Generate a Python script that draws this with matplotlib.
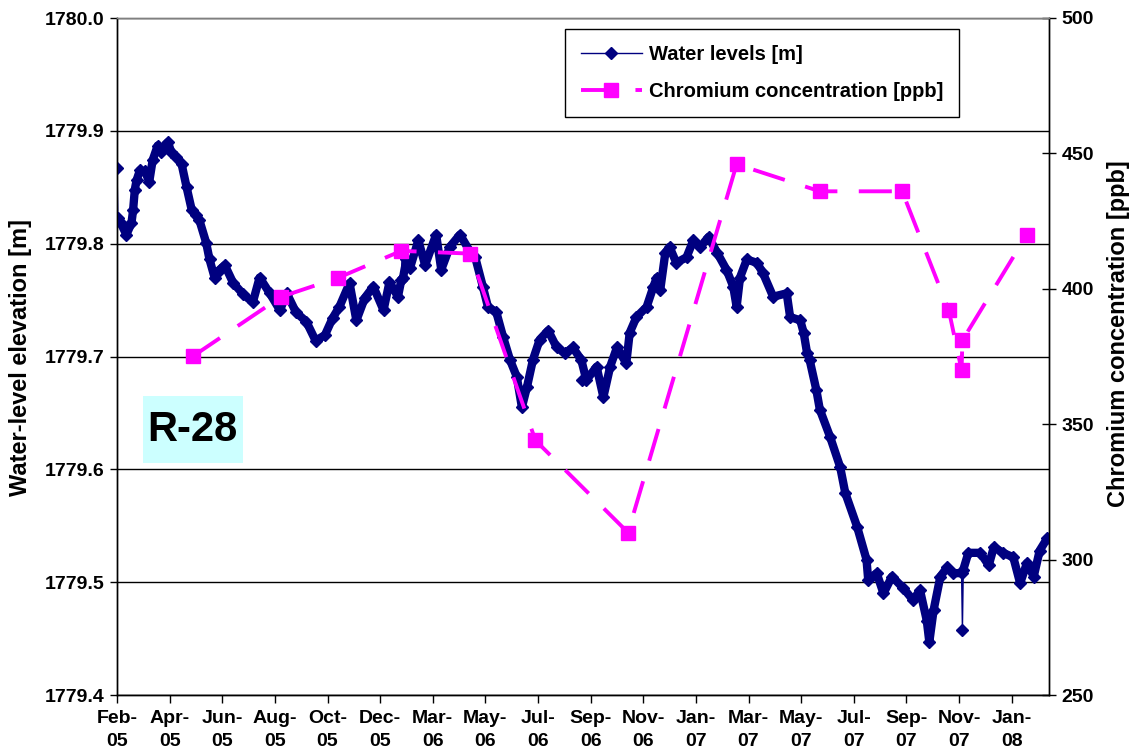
import matplotlib
matplotlib.use('Agg')
import matplotlib.pyplot as plt
import pandas as pd
import numpy as np
from matplotlib.patches import Rectangle

plt.rcParams['font.family'] = ['Liberation Sans', 'DejaVu Sans']
plt.rcParams['font.weight'] = 'bold'

# ---------------- data ----------------
START = '2005-02-23'          # first day on the time axis
TICK_STEP_DAYS = 62            # Excel date-axis major unit
N_TICKS = 18

# water levels: days since START, elevation [m]
wl_days = [0, 1, 4, 11, 17, 19, 21, 23, 27, 33,
           38, 42, 48, 52, 56, 60, 64, 69, 76, 82,
           88, 93, 97, 105, 109, 115, 121, 127, 137, 149,
           160, 168, 180, 192, 200, 211, 223, 234, 245, 254,
           262, 274, 282, 292, 302, 314, 321, 331, 335, 336,
           337, 341, 345, 355, 363, 376, 382, 392, 404, 416,
           422, 431, 437, 447, 455, 463, 471, 477, 483, 490,
           498, 508, 518, 528, 537, 547, 548, 553, 565, 573,
           581, 589, 600, 604, 612, 624, 632, 636, 640, 646,
           651, 659, 671, 679, 687, 697, 707, 718, 726, 730,
           734, 742, 754, 761, 773, 789, 793, 805, 809, 813,
           816, 824, 828, 840, 852, 858, 872, 883, 885, 895,
           903, 913, 926, 938, 946, 954, 957, 962, 970, 978,
           985, 995, 996, 997, 1003, 1017, 1027, 1033, 1044, 1056,
           1064, 1072, 1080, 1087, 1096]
wl_elev = [1779.867, 1779.823, 1779.819, 1779.808, 1779.818, 1779.830, 1779.848, 1779.856, 1779.865, 1779.864,
           1779.855, 1779.874, 1779.887, 1779.881, 1779.887, 1779.890, 1779.881, 1779.877, 1779.871, 1779.850,
           1779.830, 1779.825, 1779.821, 1779.801, 1779.786, 1779.770, 1779.777, 1779.781, 1779.765, 1779.755,
           1779.748, 1779.770, 1779.756, 1779.741, 1779.756, 1779.739, 1779.731, 1779.714, 1779.719, 1779.734,
           1779.744, 1779.765, 1779.732, 1779.752, 1779.762, 1779.741, 1779.766, 1779.753, 1779.768, 1779.792,
           1779.770, 1779.786, 1779.778, 1779.803, 1779.781, 1779.808, 1779.777, 1779.797, 1779.808, 1779.793,
           1779.788, 1779.762, 1779.744, 1779.739, 1779.717, 1779.697, 1779.682, 1779.655, 1779.673, 1779.697,
           1779.715, 1779.723, 1779.708, 1779.703, 1779.708, 1779.697, 1779.679, 1779.679, 1779.691, 1779.664,
           1779.691, 1779.708, 1779.694, 1779.721, 1779.735, 1779.744, 1779.762, 1779.770, 1779.759, 1779.792,
           1779.797, 1779.783, 1779.788, 1779.803, 1779.797, 1779.806, 1779.792, 1779.777, 1779.762, 1779.744,
           1779.770, 1779.786, 1779.783, 1779.774, 1779.753, 1779.756, 1779.735, 1779.732, 1779.721, 1779.703,
           1779.697, 1779.670, 1779.653, 1779.629, 1779.602, 1779.579, 1779.549, 1779.520, 1779.502, 1779.508,
           1779.490, 1779.505, 1779.495, 1779.484, 1779.493, 1779.466, 1779.447, 1779.475, 1779.505, 1779.513,
           1779.508, 1779.508, 1779.458, 1779.511, 1779.526, 1779.526, 1779.515, 1779.531, 1779.526, 1779.522,
           1779.499, 1779.517, 1779.505, 1779.528, 1779.539]
# single-reading outliers drawn as thin spikes in the original
wl_spike_days = [0, 336, 548, 996]

# chromium: days since START, concentration [ppb]
cr_days = [89, 193, 260, 335, 416, 493, 602, 730, 828, 925, 980, 995, 996, 1072]
cr_ppb = [375, 397, 404, 414, 413, 344, 310, 446, 436, 436, 392, 370, 381, 420]

left_ticks = [1779.4, 1779.5, 1779.6, 1779.7, 1779.8, 1779.9, 1780.0]
right_ticks = [250, 300, 350, 400, 450, 500]

WL_LABEL = 'Water levels [m]'
CR_LABEL = 'Chromium concentration [ppb]'
WELL = 'R-28'

# ---------------- plot ----------------
W, H = 1132, 756
fig = plt.figure(figsize=(W / 100, H / 100), dpi=100)
L, R, T, B = 117, 1049, 18, 695
ax = fig.add_axes([L / W, 1 - B / H, (R - L) / W, (B - T) / H])

start = pd.Timestamp(START)
wl_dates = start + pd.to_timedelta(wl_days, unit='D')
cr_dates = start + pd.to_timedelta(cr_days, unit='D')

NAVY = '#000080'
ax.yaxis.grid(True, color='black', lw=1)
ax.set_axisbelow(True)

# dense logger record -> thick band of overlapping diamonds
band = ~np.isin(wl_days, wl_spike_days)
ax.plot(wl_dates[band], np.asarray(wl_elev)[band], color=NAVY, lw=6.0,
        solid_joinstyle='round', solid_capstyle='round', zorder=2)
h1, = ax.plot(wl_dates, wl_elev, color=NAVY, lw=1.0, marker='D', ms=6.6,
              mfc=NAVY, mec=NAVY, label=WL_LABEL, zorder=3)
ax.set_ylim(left_ticks[0], left_ticks[-1])
ax.set_yticks(left_ticks)
ax.set_yticklabels([f'{v:.1f}' for v in left_ticks])

ax2 = ax.twinx()
h2, = ax2.plot(cr_dates, cr_ppb, color='#FF00FF', lw=2.8, dashes=(8.5, 5.5),
               marker='s', ms=9.5, mfc='#FF00FF', mec='#FF00FF', label=CR_LABEL)
ax2.set_ylim(right_ticks[0], right_ticks[-1])
ax2.set_yticks(right_ticks)
ax2.set_yticklabels([str(v) for v in right_ticks])

xt = [(start + pd.Timedelta(days=TICK_STEP_DAYS * k)).to_pydatetime() for k in range(N_TICKS)]
ax.set_xticks(xt)
ax.set_xticklabels([t.strftime('%b-\n%y') for t in xt])
ax.set_xlim(start.to_pydatetime(), (start + pd.Timedelta(days=1098)).to_pydatetime())

for a in (ax, ax2):
    for s in a.spines.values():
        s.set_color('black')
        s.set_linewidth(1)
    a.spines['top'].set_color('#808080')
ax.tick_params(axis='y', direction='out', length=5, width=1, labelsize=14, pad=4)
ax.tick_params(axis='x', direction='out', length=6, width=1, labelsize=14, pad=5)
ax2.tick_params(axis='y', direction='inout', length=10, width=1, labelsize=14, pad=4)
for lab in ax.get_xticklabels() + ax.get_yticklabels() + ax2.get_yticklabels():
    lab.set_fontweight('bold')
for lab in ax.get_xticklabels():
    lab.set_linespacing(1.45)

fig.text(21 / W, 1 - 357 / H, 'Water-level elevation [m]', rotation=90,
         ha='center', va='center', fontsize=17, fontweight='bold')
fig.text(1118 / W, 1 - 334 / H, 'Chromium concentration [ppb]', rotation=90,
         ha='center', va='center', fontsize=17, fontweight='bold')

# well label box
ax.add_patch(Rectangle(((142.7 - L) / (R - L), 1 - (462.7 - T) / (B - T)),
                       100 / (R - L), 66.7 / (B - T), transform=ax.transAxes,
                       facecolor='#CCFFFF', edgecolor='none', zorder=4))
ax.text((192.7 - L) / (R - L), 1 - (430 - T) / (B - T), WELL, transform=ax.transAxes,
        ha='center', va='center', fontsize=30, fontweight='bold', zorder=5)

leg = ax2.legend([h1, h2], [WL_LABEL, CR_LABEL], loc='upper left',
                 bbox_to_anchor=((565 - L) / (R - L), 1 - (29 - T) / (B - T)),
                 borderaxespad=0, fontsize=14.5, frameon=True, fancybox=False,
                 edgecolor='black', framealpha=1, handlelength=3.0,
                 labelspacing=0.9, borderpad=0.8, handletextpad=0.35)
leg.get_frame().set_linewidth(1)
for t in leg.get_texts():
    t.set_fontweight('bold')

fig.savefig('out.png', dpi=100)
